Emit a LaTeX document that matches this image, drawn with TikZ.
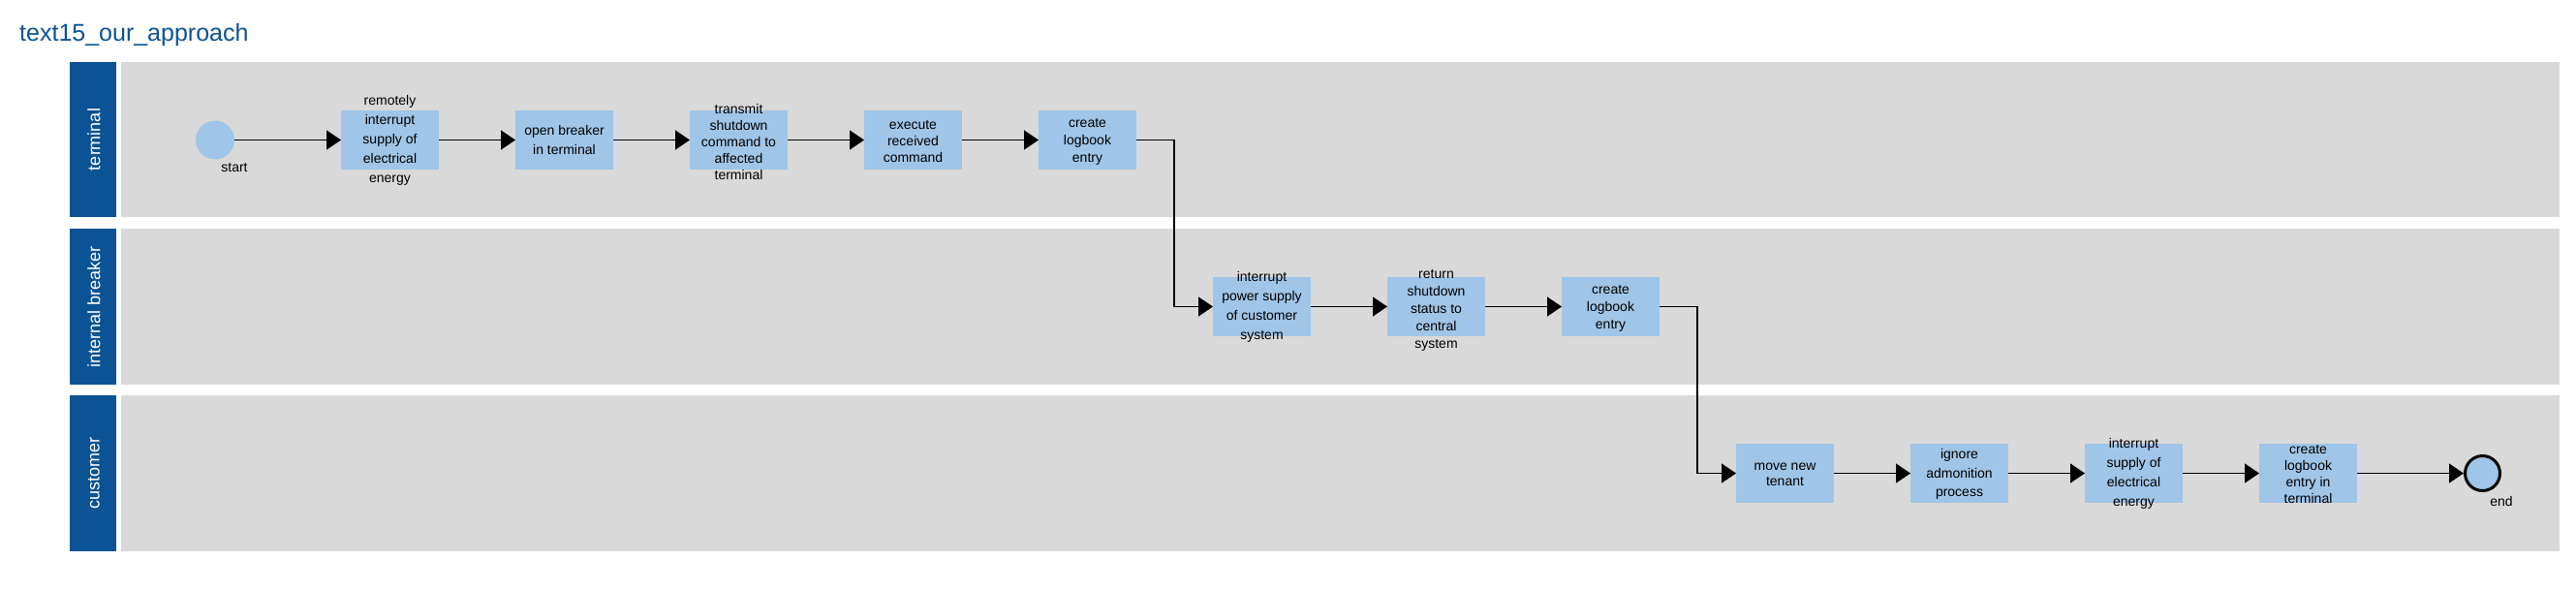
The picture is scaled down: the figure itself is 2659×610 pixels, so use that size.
\documentclass[tikz,border=0pt]{standalone}
\usepackage{fontspec}
\setmainfont{Liberation Sans}
\usetikzlibrary{arrows.meta}
\definecolor{hdrblue}{HTML}{0B5394}
\definecolor{boxblue}{HTML}{9FC5E8}
\definecolor{lanegray}{HTML}{D9D9D9}
\begin{document}
\begin{tikzpicture}[x=1pt,y=-1pt,
 lanehdr/.style={fill=hdrblue, draw=none},
 lanebody/.style={fill=lanegray, draw=none},
 hdrtext/.style={text=white, font=\fontsize{18}{20}\selectfont, rotate=90, inner sep=0pt},
 task/.style={rectangle, fill=boxblue, draw=none, minimum width=101pt, minimum height=61pt, inner sep=0pt, outer sep=0pt},
 tasktext/.style={align=center, font=\fontsize{14}{#1}\selectfont, inner sep=0pt},
 tasktext/.default=18,
 startev/.style={circle, fill=boxblue, draw=none, minimum size=40pt, inner sep=0pt, outer sep=0pt},
 endev/.style={circle, fill=boxblue, draw=black, line width=3pt, minimum size=36pt, inner sep=0pt},
 evlabel/.style={font=\fontsize{14}{16}\selectfont, inner sep=0pt},
 flow/.style={draw=black, line width=1.5pt, -{Triangle[length=15pt,width=20pt]}},
 titletext/.style={text=hdrblue, font=\fontsize{25}{30}\selectfont, anchor=base west, inner sep=0pt}]
\useasboundingbox (0,0) rectangle (2659,610);
\fill[white] (0,0) rectangle (2659,610);
% title
\node[titletext] (title) at (20,43) {text15\_our\_approach};
% lanes
\fill[lanehdr] (72,64) rectangle (120,224);
\fill[lanebody] (125,64) rectangle (2642,224);
\fill[lanehdr] (72,236) rectangle (120,397);
\fill[lanebody] (125,236) rectangle (2642,397);
\fill[lanehdr] (72,408) rectangle (120,569);
\fill[lanebody] (125,408) rectangle (2642,569);
\node[hdrtext] (h1) at (97,144) {terminal};
\node[hdrtext] (h2) at (97,316.5) {internal breaker};
\node[hdrtext] (h3) at (97,488.5) {customer};
% lane 1
\node[startev] (start) at (222,144.5) {};
\node[evlabel] (startlbl) at (242,173) {start};
\node[task] (b1) at (402.5,144.5) {};
\node[tasktext=20] (t1) at (b1) {remotely\\interrupt\\supply of\\electrical\\energy};
\node[task] (b2) at (582.5,144.5) {};
\node[tasktext=20] (t2) at (b2) {open breaker\\in terminal};
\node[task] (b3) at (762.5,144.5) {};
\node[tasktext=17] (t3) at (762.5,146) {transmit\\shutdown\\command to\\affected\\terminal};
\node[task] (b4) at (942.5,144.5) {};
\node[tasktext=17] (t4) at (942.5,146) {execute\\received\\command};
\node[task] (b5) at (1122.5,144.5) {};
\node[tasktext=18] (t5) at (1122.5,146) {create\\logbook\\entry};
% lane 2
\node[task] (b6) at (1302.5,316.5) {};
\node[tasktext=20] (t6) at (1302.5,317) {interrupt\\power supply\\of customer\\system};
\node[task] (b7) at (1482.5,316.5) {};
\node[tasktext=18] (t7) at (1482.5,320) {return\\shutdown\\status to\\central\\system};
\node[task] (b8) at (1662.5,316.5) {};
\node[tasktext=18] (t8) at (1662.5,318) {create\\logbook\\entry};
% lane 3
\node[task] (b9) at (1842.5,488.5) {};
\node[tasktext=16] (t9) at (1842.5,490) {move new\\tenant};
\node[task] (b10) at (2022.5,488.5) {};
\node[tasktext=19.5] (t10) at (2022.5,489.5) {ignore\\admonition\\process};
\node[task] (b11) at (2202.5,488.5) {};
\node[tasktext=20] (t11) at (2202.5,489) {interrupt\\supply of\\electrical\\energy};
\node[task] (b12) at (2382.5,488.5) {};
\node[tasktext=17] (t12) at (2382.5,489.5) {create\\logbook\\entry in\\terminal};
\node[endev] (end) at (2562.5,488.5) {};
\node[evlabel] (endlbl) at (2582,517) {end};
% connectors
\draw[flow] (start.east) -- (b1.west);
\draw[flow] (b1) -- (b2);
\draw[flow] (b2) -- (b3);
\draw[flow] (b3) -- (b4);
\draw[flow] (b4) -- (b5);
\coordinate (k1) at (1212,144.5);
\draw[flow] (b5.east) -- (k1) |- (b6.west);
\draw[flow] (b6) -- (b7);
\draw[flow] (b7) -- (b8);
\coordinate (k2) at (1752,316.5);
\draw[flow] (b8.east) -- (k2) |- (b9.west);
\draw[flow] (b9) -- (b10);
\draw[flow] (b10) -- (b11);
\draw[flow] (b11) -- (b12);
\draw[flow] (b12.east) -- (end.west);
\end{tikzpicture}
\end{document}
